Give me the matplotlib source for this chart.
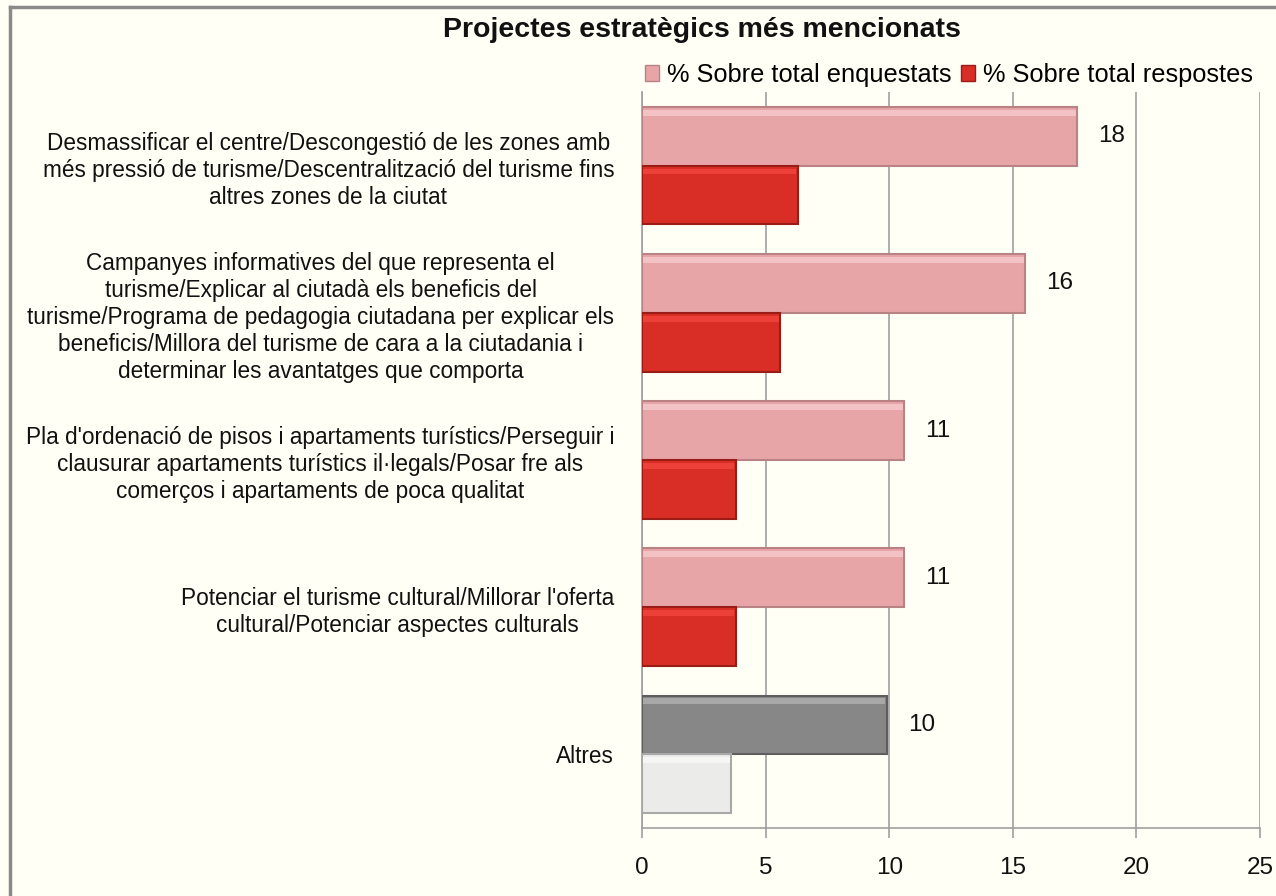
import matplotlib
matplotlib.use("Agg")
import matplotlib.pyplot as plt
from matplotlib.lines import Line2D
from matplotlib.patches import Patch
import numpy as np

plt.rcParams['font.family'] = ['Liberation Sans', 'DejaVu Sans']

title = "Projectes estratègics més mencionats"
categories = [
    "Desmassificar el centre/Descongestió de les zones amb\nmés pressió de turisme/Descentralització del turisme fins\naltres zones de la ciutat",
    "Campanyes informatives del que representa el\nturisme/Explicar al ciutadà els beneficis del\nturisme/Programa de pedagogia ciutadana per explicar els\nbeneficis/Millora del turisme de cara a la ciutadania i\ndeterminar les avantatges que comporta",
    "Pla d'ordenació de pisos i apartaments turístics/Perseguir i\nclausurar apartaments turístics il·legals/Posar fre als\ncomerços i apartaments de poca qualitat",
    "Potenciar el turisme cultural/Millorar l'oferta\ncultural/Potenciar aspectes culturals",
    "Altres",
]
series_names = ["% Sobre total enquestats", "% Sobre total respostes"]
enquestats = [17.6, 15.5, 10.6, 10.6, 9.9]
respostes = [6.3, 5.6, 3.8, 3.8, 3.6]
enq_labels = ["18", "16", "11", "11", "10"]
xticks = [0, 5, 10, 15, 20, 25]

bg = "#FFFFF5"
enq_colors = ["#E8A5A8", "#E8A5A8", "#E8A5A8", "#E8A5A8", "#878787"]
enq_light = ["#F2C2C4", "#F2C2C4", "#F2C2C4", "#F2C2C4", "#A8A8A8"]
enq_edges = ["#B98285", "#B98285", "#B98285", "#B98285", "#5E5E5E"]
res_colors = ["#D92E26", "#D92E26", "#D92E26", "#D92E26", "#EBEBE9"]
res_light = ["#EC4038", "#EC4038", "#EC4038", "#EC4038", "#F6F6F5"]
res_edges = ["#9A1C16", "#9A1C16", "#9A1C16", "#9A1C16", "#A8A8A8"]

fig = plt.figure(figsize=(12.76, 8.96), dpi=100, facecolor=bg)
ax = fig.add_axes([642/1276, 1-828/896, (1260-642)/1276, (828-92)/896])
ax.set_facecolor(bg)

n = len(categories)
y = np.arange(n)
h = 0.4
ax.barh(y - h/2, enquestats, height=h, color=enq_colors, edgecolor=enq_edges, linewidth=1.5, zorder=3)
ax.barh(y + h/2, respostes, height=h, color=res_colors, edgecolor=res_edges, linewidth=1.5, zorder=3)
# subtle bevel highlight along the top inside of each bar
hb = 0.04
ax.barh(y - h + hb/2 + 0.02, np.array(enquestats) - 0.12, height=hb, left=0.06, color=enq_light, linewidth=0, zorder=4)
ax.barh(y + hb/2 + 0.02, np.array(respostes) - 0.12, height=hb, left=0.06, color=res_light, linewidth=0, zorder=4)

for yi, v, lab in zip(y, enquestats, enq_labels):
    ax.text(v + 0.85, yi - h/2, lab, va='center', ha='left', fontsize=17.5, color='#111111')

ax.set_xlim(0, 25)
ax.set_ylim(n - 0.5, -0.5)
ax.set_xticks(xticks)
ax.set_xticklabels([str(t) for t in xticks], fontsize=17.5)
ax.set_yticks(y)
ax.set_yticklabels(categories, fontsize=16.3, color='#111111')
for t in ax.get_yticklabels():
    t.set_multialignment('center')
    t.set_linespacing(1.23)
ax.tick_params(axis='y', length=0, pad=20)
ax.tick_params(axis='x', length=7, width=1.2, color='#A0A0A0', pad=14, labelcolor='#111111')
ax.grid(axis='x', color='#A0A0A0', linewidth=1.2, zorder=0)
for s in ['top', 'right']:
    ax.spines[s].set_visible(False)
for s in ['left', 'bottom']:
    ax.spines[s].set_color('#A0A0A0')
    ax.spines[s].set_linewidth(1.2)

fig.text(702/1276, 1-30/896, title, ha='center', va='center', fontsize=20.5, fontweight='bold', color='#111111')

handles = [Patch(facecolor="#E8A5A8", edgecolor="#B98285"), Patch(facecolor="#D92E26", edgecolor="#9A1C16")]
fig.legend(handles, series_names, loc='center', bbox_to_anchor=(949/1276, 1-75/896), ncol=2,
           frameon=False, fontsize=18.3, handlelength=0.55, handleheight=0.55, handletextpad=0.3,
           columnspacing=0.4, borderpad=0)

fig.add_artist(Line2D([10/1276, 1], [1-7/896, 1-7/896], color='#8A8A8A', linewidth=2.5, transform=fig.transFigure))
fig.add_artist(Line2D([10/1276, 10/1276], [0, 1-7/896], color='#8A8A8A', linewidth=2.5, transform=fig.transFigure))

fig.savefig("out.png", dpi=100, facecolor=bg)
